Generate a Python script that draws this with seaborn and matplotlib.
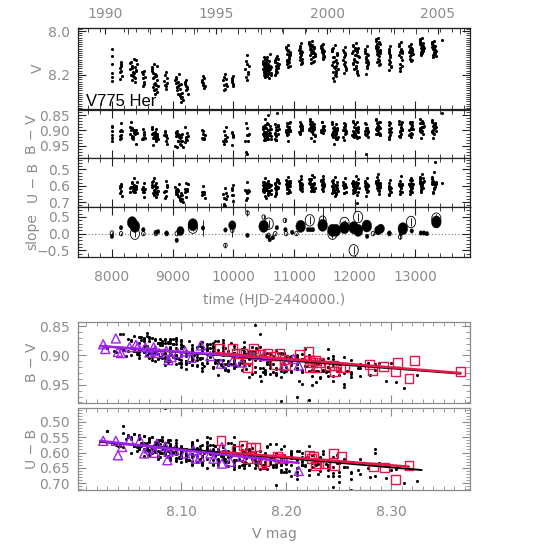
import numpy as np
import pandas as pd
import matplotlib
matplotlib.use("Agg")
import matplotlib.pyplot as plt
import seaborn as sns
from matplotlib.ticker import MultipleLocator, FixedLocator, FuncFormatter

nan = np.nan

# photometry of V775 Her, one line per observing season
hjd = [
    8002, 7994, 8008, 7997, 8005, 8000,
    8141, 8127, 8154, 8136, 8159, 8132, 8150, 8145,
    8370, 8310, 8394, 8333, 8302, 8415, 8347, 8318, 8386, 8355, 8403, 8325, 8362, 8340, 8378,
    8523, 8505, 8542, 8498, 8529, 8517, 8511, 8535,
    8700, 8664, 8741, 8682, 8719, 8658, 8750, 8676, 8694, 8733, 8670, 8712, 8688, 8760, 8706, 8726,
    8890, 8876, 8862, 8904, 8869, 8912, 8883, 8897,
    9098, 9060, 9140, 9045, 9114, 9083, 9160, 9052, 9122, 9068, 9172, 9090, 9130, 9075, 9150, 9106,
    9228, 9211, 9240, 9205, 9222, 9247, 9217, 9234,
    9500, 9482, 9518, 9494, 9525, 9488, 9512, 9506,
    9867, 9839, 9881, 9832, 9860, 9889, 9846, 9874, 9853,
    9988, 9970, 10001, 9976, 9994, 9982,
    10231, 10203, 10252, 10196, 10224, 10245, 10210, 10238, 10217,
    10485, 10490, 10494, 10498, 10502, 10506, 10510, 10514, 10518, 10522,
    10526, 10530, 10534, 10538, 10542, 10546, 10550, 10555, 10560, 10565,
    10570, 10575, 10580, 10586, 10592, 10598, 10605, 10612, 10620, 10628,
    10722, 10686, 10740, 10680, 10710, 10747, 10698, 10734, 10692, 10716, 10704, 10728,
    10907, 10877, 10934, 10872, 10917, 10941, 10887, 10928, 10882, 10912, 10897, 10922, 10892, 10902,
    11115, 11095, 11130, 11090, 11120, 11136, 11100, 11125, 11105, 11110,
    11298, 11262, 11328, 11250, 11310, 11274, 11340, 11256, 11316, 11286, 11334, 11268, 11304, 11280, 11322, 11292,
    11475, 11455, 11490, 11450, 11480, 11496, 11460, 11485, 11465, 11470,
    11680, 11632, 11704, 11620, 11656, 11716, 11638, 11692, 11626, 11668, 11710, 11644, 11674, 11722, 11650, 11698, 11662, 11686,
    11834, 11816, 11846, 11810, 11828, 11852, 11822, 11840,
    12016, 11974, 12046, 11962, 12004, 12058, 11986, 12034, 11968, 12022, 12064, 11992, 12040, 11980, 12052, 11998, 12028, 12010,
    12197, 12177, 12212, 12172, 12202, 12218, 12182, 12207, 12187, 12192,
    12388, 12358, 12413, 12348, 12398, 12368, 12424, 12353, 12403, 12378, 12418, 12363, 12393, 12373, 12408, 12383,
    12578, 12563, 12588, 12558, 12573, 12594, 12568, 12583,
    12760, 12736, 12778, 12730, 12766, 12785, 12742, 12772, 12748, 12754,
    12930, 12905, 12945, 12900, 12920, 12956, 12910, 12940, 12915, 12935, 12925, 12950,
    13105, 13075, 13126, 13070, 13095, 13138, 13080, 13115, 13085, 13132, 13090, 13120, 13100, 13110,
    13300, 13276, 13324, 13270, 13306, 13336, 13282, 13318, 13288, 13330, 13294, 13312,
    13443,
]
vmag = [
    8.080, 8.115, 8.150, 8.190, 8.210, 8.228,
    8.150, 8.188, 8.142, 8.170, 8.203, 8.220, 8.180, 8.160,
    8.125, 8.140, 8.132, 8.158, 8.171, 8.150, 8.185, 8.198, 8.162, 8.210, 8.176, 8.225, 8.190, 8.205, 8.232,
    8.182, 8.195, 8.210, 8.188, 8.230, 8.248, 8.215, 8.240,
    8.150, 8.172, 8.160, 8.190, 8.205, 8.182, 8.225, 8.215, 8.240, 8.198, 8.255, 8.235, 8.268, 8.250, 8.285, 8.262,
    8.185, 8.200, 8.228, 8.212, 8.245, 8.235, 8.262, 8.250,
    8.195, 8.210, 8.240, 8.225, 8.262, 8.250, 8.280, 8.235, 8.295, 8.270, 8.312, 8.288, 8.325, 8.255, 8.300, 8.245,
    8.222, 8.240, 8.255, 8.232, 8.270, 8.285, 8.248, 8.262,
    8.205, 8.222, 8.215, 8.238, 8.250, 8.230, 8.258, 8.245,
    8.195, 8.210, 8.240, 8.225, 8.262, 8.250, 8.270, 8.218, 8.245,
    8.205, 8.222, 8.240, 8.215, 8.250, 8.232,
    8.110, 8.135, 8.160, 8.175, 8.150, 8.195, 8.210, 8.185, 8.222,
    8.150, 8.172, 8.135, 8.185, 8.160, 8.198, 8.145, 8.175, 8.210, 8.128,
    8.168, 8.190, 8.155, 8.140, 8.182, 8.205, 8.162, 8.118, 8.178, 8.195,
    8.148, 8.170, 8.215, 8.138, 8.185, 8.158, 8.105, 8.175, 8.200, 8.165,
    8.115, 8.140, 8.160, 8.132, 8.175, 8.150, 8.190, 8.168, 8.198, 8.145, 8.180, 8.125,
    8.065, 8.085, 8.100, 8.078, 8.120, 8.110, 8.135, 8.095, 8.150, 8.125, 8.165, 8.140, 8.105, 8.090,
    8.055, 8.075, 8.095, 8.085, 8.110, 8.125, 8.100, 8.140, 8.118, 8.150,
    8.045, 8.060, 8.075, 8.052, 8.090, 8.080, 8.105, 8.068, 8.120, 8.095, 8.135, 8.110, 8.085, 8.145, 8.100, 8.070,
    8.060, 8.075, 8.090, 8.070, 8.100, 8.112, 8.085, 8.120, 8.095, 8.128,
    8.065, 8.080, 8.100, 8.090, 8.120, 8.110, 8.140, 8.130, 8.155, 8.170, 8.145, 8.185, 8.200, 8.175, 8.215, 8.160, 8.228, 8.190,
    8.072, 8.095, 8.110, 8.130, 8.150, 8.170, 8.190, 8.140,
    8.055, 8.070, 8.085, 8.100, 8.078, 8.115, 8.130, 8.095, 8.145, 8.160, 8.120, 8.175, 8.190, 8.150, 8.200, 8.135, 8.110, 8.088,
    8.070, 8.090, 8.110, 8.100, 8.130, 8.150, 8.120, 8.170, 8.195, 8.140,
    8.030, 8.045, 8.060, 8.075, 8.052, 8.090, 8.100, 8.068, 8.115, 8.125, 8.085, 8.140, 8.155, 8.105, 8.130, 8.095,
    8.070, 8.090, 8.110, 8.130, 8.150, 8.165, 8.178, 8.120,
    8.050, 8.070, 8.090, 8.110, 8.080, 8.130, 8.150, 8.100, 8.170, 8.180,
    8.060, 8.072, 8.085, 8.095, 8.078, 8.105, 8.115, 8.090, 8.125, 8.135, 8.100, 8.082,
    8.030, 8.042, 8.055, 8.048, 8.065, 8.075, 8.060, 8.085, 8.095, 8.070, 8.105, 8.090, 8.110, 8.080,
    8.045, 8.055, 8.068, 8.060, 8.078, 8.090, 8.072, 8.100, 8.110, 8.085, 8.120, 8.095,
    8.040,
]
bv = [
    0.902, 0.886, 0.889, 0.933, 0.914, 0.926,
    0.915, 0.901, 0.898, 0.928, 0.902, 0.918, 0.925, 0.877,
    0.908, 0.873, 0.907, 0.925, 0.888, 0.907, 0.922, 0.897, 0.902, 0.900, 0.944, 0.918, 0.905, 0.927, 0.912,
    0.914, 0.896, 0.923, 0.928, 0.912, 0.926, 0.929, 0.904,
    0.910, 0.889, 0.917, 0.923, 0.910, 0.911, 0.925, 0.907, 0.926, 0.896, 0.949, 0.925, 0.922, 0.927, 0.914, 0.932,
    0.917, 0.902, 0.915, 0.944, 0.906, 0.926, 0.936, 0.914,
    0.922, 0.906, 0.920, 0.950, 0.914, 0.934, 0.933, 0.907, 0.943, 0.914, 0.955, 0.913, 0.934, 0.954, 0.912, 0.917,
    0.927, 0.889, 0.930, 0.938, 0.922, 0.918, 0.927, 0.907,
    0.910, 0.899, 0.925, 0.928, 0.915, 0.926, 0.927, 0.901,
    0.914, 0.902, 0.935, 0.935, 0.928, 0.921, 0.935, 0.889, 0.943,
    0.917, 0.904, 0.920, 0.948, 0.914, 0.908,
    0.892, 0.876, 0.910, 0.935, 0.915, 0.936, 0.970, 0.914, 0.976,
    0.910, 0.889, 0.895, 0.932, 0.885, 0.914, 0.917, 0.864, 0.923, 0.881,
    0.932, 0.893, 0.912, 0.908, 0.904, 0.913, 0.923, 0.878, 0.921, 0.927,
    0.878, 0.848, 0.898, 0.916, 0.909, 0.908, 0.894, 0.885, 0.927, 0.917,
    0.897, 0.880, 0.910, 0.912, 0.900, 0.896, 0.930, 0.885, 0.928, 0.842, 0.932, 0.883,
    0.894, 0.874, 0.900, 0.906, 0.890, 0.901, 0.913, 0.871, 0.916, 0.890, 0.936, 0.888, 0.901, 0.900,
    0.892, 0.872, 0.899, 0.905, 0.888, 0.898, 0.907, 0.885, 0.904, 0.898,
    0.887, 0.868, 0.895, 0.900, 0.885, 0.882, 0.915, 0.861, 0.913, 0.881, 0.934, 0.891, 0.891, 0.924, 0.880, 0.890,
    0.892, 0.873, 0.898, 0.905, 0.888, 0.899, 0.905, 0.885, 0.903, 0.888,
    0.894, 0.872, 0.900, 0.910, 0.890, 0.893, 0.920, 0.878, 0.916, 0.900, 0.927, 0.908, 0.920, 0.922, 0.906, 0.911, 0.945, 0.904,
    0.896, 0.876, 0.903, 0.922, 0.896, 0.908, 0.931, 0.879,
    0.892, 0.869, 0.897, 0.915, 0.878, 0.896, 0.920, 0.872, 0.916, 0.900, 0.922, 0.908, 0.922, 0.918, 0.906, 0.908, 0.917, 0.879,
    0.896, 0.874, 0.901, 0.913, 0.892, 0.904, 0.914, 0.892, 0.978, 0.893,
    0.888, 0.864, 0.891, 0.910, 0.873, 0.890, 0.912, 0.867, 0.908, 0.891, 0.916, 0.899, 0.912, 0.910, 0.888, 0.900,
    0.896, 0.873, 0.901, 0.920, 0.895, 0.906, 0.929, 0.877,
    0.893, 0.870, 0.897, 0.917, 0.879, 0.898, 0.921, 0.873, 0.919, 0.902,
    0.894, 0.871, 0.896, 0.915, 0.878, 0.894, 0.916, 0.872, 0.912, 0.895, 0.920, 0.882,
    0.888, 0.863, 0.889, 0.901, 0.876, 0.886, 0.900, 0.872, 0.904, 0.876, 0.923, 0.887, 0.903, 0.903,
    0.891, 0.866, 0.891, 0.904, 0.879, 0.889, 0.902, 0.875, 0.907, 0.879, 0.926, 0.887,
    0.842,
]
ub = [
    nan, nan, nan, nan, nan, nan,
    0.591, 0.646, 0.604, 0.600, 0.660, 0.616, 0.632, 0.600,
    0.550, 0.608, 0.608, 0.574, 0.640, 0.578, 0.630, 0.607, 0.618, 0.595, 0.622, 0.607, 0.636, 0.606, 0.616,
    0.583, 0.640, 0.621, 0.618, 0.670, 0.608, 0.628, 0.640,
    0.551, 0.608, 0.608, 0.573, 0.642, 0.578, 0.635, 0.600, 0.640, 0.580, 0.646, 0.595, 0.658, 0.634, 0.603, 0.666,
    0.571, 0.630, 0.636, 0.596, 0.675, 0.605, 0.665, 0.633,
    0.590, 0.650, 0.646, 0.608, 0.685, 0.628, 0.680, 0.623, 0.684, 0.620, 0.699, 0.633, 0.694, 0.648, 0.656, 0.666,
    0.580, 0.640, 0.621, 0.618, 0.670, 0.590, 0.635, 0.630,
    0.603, 0.658, 0.641, 0.638, 0.675, 0.638, 0.648, 0.647,
    0.615, 0.673, 0.678, 0.648, 0.722, 0.665, 0.725, 0.643, 0.712,
    0.595, 0.656, 0.656, 0.616, 0.695, 0.625,
    0.575, 0.630, 0.631, 0.628, 0.645, 0.640, 0.685, 0.627, 0.672,
    0.575, 0.630, 0.596, 0.613, 0.635, 0.612, 0.605, 0.613, 0.662, 0.552,
    0.622, 0.603, 0.621, 0.594, 0.610, 0.675, 0.590, 0.588, 0.610, 0.658,
    0.568, 0.634, 0.630, 0.610, 0.636, 0.594, 0.600, 0.594, 0.652, 0.597,
    0.560, 0.616, 0.616, 0.580, 0.652, 0.585, 0.645, 0.610, 0.662, 0.570, 0.642, 0.565,
    0.545, 0.600, 0.601, 0.566, 0.635, 0.570, 0.622, 0.580, 0.642, 0.570, 0.642, 0.583, 0.610, 0.586,
    0.540, 0.596, 0.596, 0.570, 0.628, 0.590, 0.595, 0.615, 0.622, 0.582,
    0.535, 0.590, 0.591, 0.556, 0.625, 0.560, 0.612, 0.570, 0.634, 0.560, 0.634, 0.573, 0.600, 0.631, 0.581, 0.608,
    0.543, 0.598, 0.598, 0.563, 0.630, 0.590, 0.596, 0.610, 0.617, 0.575,
    0.545, 0.600, 0.598, 0.573, 0.635, 0.578, 0.625, 0.603, 0.644, 0.600, 0.626, 0.613, 0.663, 0.634, 0.640, 0.650, 0.640, 0.646,
    0.550, 0.606, 0.604, 0.596, 0.645, 0.608, 0.645, 0.600,
    0.540, 0.593, 0.594, 0.583, 0.610, 0.585, 0.625, 0.585, 0.644, 0.602, 0.614, 0.615, 0.705, 0.624, 0.636, 0.640, 0.578, 0.595,
    0.553, 0.603, 0.604, 0.580, 0.638, 0.598, 0.612, 0.623, 0.662, 0.582,
    0.530, 0.583, 0.581, 0.573, 0.600, 0.572, 0.610, 0.575, 0.630, 0.585, 0.604, 0.597, 0.648, 0.611, 0.606, 0.625,
    0.567, 0.618, 0.616, 0.606, 0.655, 0.612, 0.650, 0.610,
    0.543, 0.598, 0.596, 0.588, 0.615, 0.590, 0.630, 0.591, 0.650, 0.604,
    0.550, 0.603, 0.601, 0.590, 0.620, 0.592, 0.630, 0.593, 0.650, 0.605, 0.619, 0.563,
    0.530, 0.580, 0.578, 0.556, 0.610, 0.570, 0.586, 0.593, 0.627, 0.555, 0.626, 0.575, 0.636, 0.598,
    0.515, 0.578, 0.581, 0.556, 0.615, 0.578, 0.590, 0.605, 0.640, 0.455, 0.642, 0.580,
    0.580,
]

# further nights in the better covered seasons
hjd_b = [
    10488, 10500, 10512, 10524, 10536, 10548, 10562, 10578, 10595, 10615,
    10684, 10696, 10708, 10720, 10738,
    10875, 10885, 10895, 10905, 10920, 10932,
    11092, 11102, 11112, 11122, 11132,
    11252, 11266, 11278, 11290, 11302, 11314, 11326, 11338,
    11452, 11462, 11472, 11482, 11494,
    11624, 11636, 11648, 11660, 11672, 11684, 11696, 11712,
    11812, 11824, 11836, 11844, 11850,
    11965, 11978, 11990, 12002, 12018, 12030, 12044, 12060,
    12175, 12185, 12195, 12205, 12215,
    12350, 12360, 12370, 12380, 12390, 12400, 12410, 12420,
    12560, 12570, 12580, 12590,
    12732, 12744, 12756, 12768, 12780,
    12902, 12912, 12922, 12932, 12942, 12952,
    13072, 13082, 13092, 13102, 13112, 13124,
    13272, 13284, 13296, 13308, 13320, 13332,
    8305, 8330, 8350, 8375, 8398,
    8662, 8685, 8705, 8728, 8748,
    9050, 9072, 9095, 9118, 9145,
]
vmag_b = [
    8.142, 8.120, 8.188, 8.165, 8.152, 8.132, 8.205, 8.178, 8.158, 8.192,
    8.135, 8.158, 8.122, 8.185, 8.150,
    8.072, 8.130, 8.088, 8.145, 8.108, 8.158,
    8.068, 8.132, 8.090, 8.105, 8.145,
    8.058, 8.082, 8.128, 8.065, 8.098, 8.140, 8.072, 8.115,
    8.078, 8.065, 8.105, 8.088, 8.118,
    8.092, 8.118, 8.075, 8.162, 8.138, 8.205, 8.180, 8.105,
    8.085, 8.120, 8.160, 8.102, 8.178,
    8.062, 8.092, 8.125, 8.108, 8.168, 8.142, 8.182, 8.078,
    8.080, 8.125, 8.105, 8.160, 8.142,
    8.038, 8.082, 8.058, 8.110, 8.072, 8.135, 8.092, 8.148,
    8.082, 8.100, 8.142, 8.160,
    8.060, 8.095, 8.120, 8.085, 8.160,
    8.068, 8.088, 8.110, 8.075, 8.130, 8.098,
    8.036, 8.052, 8.078, 8.062, 8.100, 8.088,
    8.050, 8.082, 8.065, 8.105, 8.092, 8.115,
    8.145, 8.168, 8.195, 8.215, 8.180,
    8.165, 8.210, 8.195, 8.245, 8.278,
    8.218, 8.255, 8.232, 8.285, 8.305,
]
bv_b = [
    0.888, 0.905, 0.915, 0.892, 0.918, 0.876, 0.928, 0.899, 0.912, 0.896,
    0.907, 0.889, 0.918, 0.897, 0.884,
    0.898, 0.884, 0.905, 0.910, 0.876, 0.902,
    0.884, 0.911, 0.879, 0.900, 0.893,
    0.894, 0.878, 0.903, 0.872, 0.906, 0.897, 0.889, 0.918,
    0.897, 0.871, 0.892, 0.909, 0.884,
    0.880, 0.906, 0.892, 0.897, 0.915, 0.901, 0.928, 0.894,
    0.900, 0.888, 0.912, 0.884, 0.903,
    0.873, 0.903, 0.887, 0.911, 0.900, 0.925, 0.896, 0.890,
    0.902, 0.880, 0.910, 0.897, 0.921,
    0.894, 0.875, 0.898, 0.883, 0.907, 0.890, 0.872, 0.915,
    0.905, 0.882, 0.915, 0.892,
    0.878, 0.905, 0.889, 0.910, 0.896,
    0.899, 0.877, 0.908, 0.893, 0.885, 0.912,
    0.893, 0.875, 0.898, 0.869, 0.888, 0.911,
    0.872, 0.898, 0.884, 0.912, 0.880, 0.903,
    0.913, 0.893, 0.920, 0.906, 0.898,
    0.896, 0.922, 0.905, 0.935, 0.912,
    0.918, 0.902, 0.936, 0.925, 0.946,
]
ub_b = [
    0.620, 0.577, 0.640, 0.588, 0.625, 0.580, 0.612, 0.645, 0.592, 0.628,
    0.590, 0.628, 0.602, 0.615, 0.575,
    0.590, 0.575, 0.610, 0.595, 0.625, 0.640,
    0.585, 0.612, 0.560, 0.605, 0.630,
    0.582, 0.560, 0.605, 0.590, 0.618, 0.598, 0.548, 0.612,
    0.572, 0.588, 0.615, 0.560, 0.600,
    0.602, 0.580, 0.565, 0.635, 0.598, 0.618, 0.650, 0.612,
    0.578, 0.615, 0.598, 0.592, 0.640,
    0.570, 0.600, 0.580, 0.625, 0.612, 0.595, 0.655, 0.560,
    0.572, 0.620, 0.590, 0.610, 0.632,
    0.575, 0.548, 0.596, 0.565, 0.585, 0.628, 0.598, 0.610,
    0.602, 0.585, 0.630, 0.640,
    0.590, 0.570, 0.612, 0.598, 0.640,
    0.592, 0.565, 0.608, 0.580, 0.640, 0.615,
    0.570, 0.548, 0.595, 0.580, 0.590, 0.615,
    0.548, 0.590, 0.570, 0.620, 0.598, 0.588,
    0.615, 0.585, 0.625, 0.640, 0.600,
    0.595, 0.625, 0.640, 0.615, 0.650,
    0.640, 0.628, 0.660, 0.675, 0.655,
]

# seasonal colour/magnitude slopes (filled: B-V, open: U-B)
slope_t = [8000, 8150, 8333, 8378, 8517, 8722, 8760, 8900, 9067, 9128,
           9333, 9500, 9870, 9983, 10233, 10500, 10560, 10600, 10650, 10717,
           10858, 10970, 11110, 11230, 11270, 11310, 11472, 11633, 11690, 11833,
           11983, 12055, 12200, 12205, 12388, 12430, 12572, 12760, 12793, 12940,
           13090, 13140, 13190, 13345]
slope_val = [-0.08, 0.18, 0.33, 0.22, 0.12, 0.04, 0.06, 0.02, -0.20, 0.08,
             0.27, 0.17, 0.11, 0.25, -0.05, 0.22, -0.08, -0.18, -0.12, 0.18,
             0.12, 0.04, 0.22, 0.12, 0.12, 0.12, 0.25, 0.10, 0.10, 0.18,
             0.18, 0.10, 0.23, -0.08, 0.10, 0.15, 0.02, 0.00, 0.15, 0.08,
             0.02, 0.02, 0.00, 0.35]
slope_w = [1, 1, 3, 3, 1, 1, 1, 1, 1, 2,
           3, 1, 1, 2, 1, 3, 1, 1, 1, 1,
           1, 1, 3, 1, 1, 1, 3, 3, 3, 3,
           3, 3, 3, 1, 2, 2, 1, 1, 3, 1,
           1, 1, 1, 3]
slope_err_lo = [0, 0, 0, 0, 0, 0, 0, 0, 0, 0,
                0, 0.25, 0, 0.1, 0, 0, 0, 0, 0, 0,
                0, 0, 0, 0, 0, 0, 0, 0, 0, 0,
                0, 0, 0, 0, 0, 0, 0, 0, 0, 0,
                0, 0, 0, 0]
slope_err_hi = [0, 0, 0, 0, 0, 0, 0, 0, 0, 0,
                0, 0.25, 0, 0.1, 0, 0, 0, 0, 0, 0,
                0, 0, 0, 0, 0, 0, 0.55, 0, 0, 0,
                0, 0, 0, 0, 0, 0, 0, 0, 0, 0,
                0, 0, 0, 0]

slope2_t = [8000, 8150, 8378, 8517, 8722, 8900, 9067, 9333, 9870, 9983,
            10233, 10500, 10583, 10580, 10690, 10850, 10870, 11040, 11260, 11472,
            11633, 11833, 11983, 12055, 12300, 12572, 12750, 12928, 13345]
slope2_val = [0.02, 0.00, 0.00, 0.00, 0.00, 0.00, 0.00, 0.18, -0.35, 0.10,
              0.62, 0.50, 0.30, -0.05, 0.00, 0.40, 0.00, 0.00, 0.40, 0.40,
              0.00, 0.32, -0.50, 0.50, 0.00, 0.00, -0.10, 0.35, 0.45]
slope2_w = [1, 1, 3, 1, 1, 1, 1, 3, 1, 1,
            1, 1, 3, 1, 1, 1, 1, 1, 3, 2,
            3, 3, 3, 3, 1, 1, 1, 3, 3]
slope2_err = [0.03, 0.03, 0.10, 0.03, 0.03, 0.03, 0.03, 0.10, 0.08, 0.20,
              0.08, 0.05, 0.12, 0.05, 0.03, 0.06, 0.03, 0.03, 0.12, 0.10,
              0.12, 0.10, 0.12, 0.12, 0.03, 0.03, 0.06, 0.12, 0.15]

# binned means: bright state (triangles) and faint state (squares)
tri_bv_v = [8.026, 8.028, 8.038, 8.040, 8.043, 8.051, 8.057, 8.059, 8.066, 8.070,
            8.074, 8.075, 8.079, 8.086, 8.088, 8.091, 8.097, 8.104, 8.110, 8.119,
            8.128, 8.138, 8.149, 8.158, 8.179, 8.198, 8.207, 8.212]
tri_bv = [0.881, 0.889, 0.871, 0.894, 0.896, 0.886, 0.882, 0.885, 0.886, 0.895,
          0.886, 0.892, 0.896, 0.892, 0.908, 0.903, 0.896, 0.893, 0.904, 0.883,
          0.901, 0.914, 0.910, 0.912, 0.901, 0.917, 0.906, 0.917]
tri_ub_v = [8.026, 8.038, 8.040, 8.044, 8.051, 8.061, 8.065, 8.069, 8.075, 8.077,
            8.085, 8.087, 8.088, 8.094, 8.104, 8.112, 8.114, 8.128, 8.131, 8.139,
            8.139, 8.158, 8.118, 8.147, 8.172, 8.198, 8.212]
tri_ub = [0.562, 0.562, 0.609, 0.582, 0.560, 0.560, 0.603, 0.587, 0.601, 0.571,
          0.580, 0.625, 0.598, 0.593, 0.603, 0.593, 0.620, 0.603, 0.620, 0.582,
          0.636, 0.614, 0.614, 0.630, 0.620, 0.620, 0.660]

sq_bv_v = [8.137, 8.149, 8.153, 8.159, 8.163, 8.163, 8.169, 8.171, 8.176, 8.182,
           8.188, 8.190, 8.194, 8.198, 8.200, 8.213, 8.221, 8.222, 8.222, 8.225,
           8.228, 8.229, 8.232, 8.241, 8.245, 8.246, 8.252, 8.256, 8.279, 8.282,
           8.293, 8.304, 8.306, 8.317, 8.322, 8.366]
sq_bv = [0.888, 0.888, 0.896, 0.897, 0.907, 0.920, 0.888, 0.898, 0.898, 0.896,
         0.901, 0.915, 0.896, 0.907, 0.917, 0.898, 0.893, 0.909, 0.920, 0.912,
         0.909, 0.920, 0.912, 0.917, 0.917, 0.928, 0.920, 0.920, 0.915, 0.926,
         0.919, 0.928, 0.912, 0.939, 0.909, 0.927]
sq_ub_v = [8.138, 8.153, 8.159, 8.163, 8.166, 8.171, 8.177, 8.180, 8.192, 8.194,
           8.222, 8.224, 8.226, 8.228, 8.231, 8.237, 8.245, 8.246, 8.253, 8.283,
           8.294, 8.304, 8.317]
sq_ub = [0.562, 0.593, 0.576, 0.620, 0.584, 0.582, 0.636, 0.630, 0.614, 0.620,
         0.609, 0.620, 0.611, 0.644, 0.636, 0.636, 0.603, 0.643, 0.612, 0.647,
         0.649, 0.688, 0.642]

# linear fits (end points): all data, bright state, faint state
fit_bv_v = {"all": [8.023, 8.366], "tri": [8.023, 8.212], "sq": [8.134, 8.366]}
fit_bv = {"all": [0.884, 0.931], "tri": [0.884, 0.908], "sq": [0.896, 0.930]}
fit_ub_v = {"all": [8.023, 8.329], "tri": [8.023, 8.212], "sq": [8.138, 8.317]}
fit_ub = {"all": [0.565, 0.657], "tri": [0.562, 0.634], "sq": [0.598, 0.646]}

years = [1990, 1995, 2000, 2005]

obs = pd.concat([pd.DataFrame({"hjd": hjd, "V": vmag, "BV": bv, "UB": ub}),
                 pd.DataFrame({"hjd": hjd_b, "V": vmag_b, "BV": bv_b, "UB": ub_b})],
                ignore_index=True)

sns.set_style("ticks")
plt.rcParams["font.family"] = ["DejaVu Sans"]
plt.rcParams["font.size"] = 10

PURPLE = "#a020f0"
RED = "#e8174a"
LABEL = "#8c8c8c"

fig = plt.figure(figsize=(5.45, 5.45), dpi=100)


def add_axes(left, top, right, bottom):
    return fig.add_axes([left / 545, 1 - bottom / 545, (right - left) / 545, (bottom - top) / 545])


ax_v = add_axes(78, 28, 470, 109)
ax_bv = add_axes(78, 110, 470, 158)
ax_ub = add_axes(78, 158, 470, 207)
ax_sl = add_axes(78, 207, 470, 257)
ax_cbv = add_axes(78, 322, 470, 403)
ax_cub = add_axes(78, 408, 470, 490)


def fmt(n):
    return FuncFormatter(lambda x, p: f"{x + 0.0:.{n}f}".replace("-", "\u2212"))


def style(ax, frame):
    for sp in ax.spines.values():
        sp.set_color(frame)
        sp.set_linewidth(0.9)
    ax.tick_params(which="both", direction="in", top=True, right=True,
                   color=frame, labelcolor=LABEL, labelsize=10)
    ax.tick_params(which="major", length=6, width=0.8)
    ax.tick_params(which="minor", length=3, width=0.6)
    ax.tick_params(axis="y", pad=6)


# time series
for ax, col in [(ax_v, "V"), (ax_bv, "BV"), (ax_ub, "UB")]:
    sns.scatterplot(data=obs, x="hjd", y=col, ax=ax, color="k", s=5,
                    linewidth=0, legend=False)

theta = np.linspace(0, 2 * np.pi, 40)
ellipse = np.column_stack([0.8 * np.cos(theta), np.sin(theta)])

ax_sl.axhline(0, ls=(0, (1, 2)), color="#777777", lw=0.8, zorder=0)
sns.scatterplot(x=slope2_t, y=slope2_val, size=slope2_w, sizes=(10, 68), size_norm=(1, 3),
                marker=ellipse, color="white", edgecolor="k", linewidth=0.6,
                legend=False, ax=ax_sl, zorder=2)
sns.scatterplot(x=slope_t, y=slope_val, size=slope_w, sizes=(10, 75), size_norm=(1, 3),
                marker=ellipse, color="k", edgecolor="k", linewidth=0.3,
                legend=False, ax=ax_sl, zorder=3)
ax_sl.errorbar(slope2_t, slope2_val, yerr=slope2_err, fmt="none", ecolor="k",
               elinewidth=0.6, zorder=4)
ax_sl.errorbar(slope_t, slope_val, yerr=[slope_err_lo, slope_err_hi], fmt="none",
               ecolor="k", elinewidth=0.6, zorder=4)

for ax in (ax_v, ax_bv, ax_ub, ax_sl):
    style(ax, "#222222")
    ax.set_xlim(7440, 13900)
    ax.xaxis.set_major_locator(MultipleLocator(1000))
    ax.xaxis.set_minor_locator(MultipleLocator(200))
    ax.set_xlabel("")
for ax in (ax_v, ax_bv, ax_ub):
    ax.tick_params(axis="x", labelbottom=False)

ax_v.set_ylim(8.355, 7.986)
ax_v.yaxis.set_major_locator(MultipleLocator(0.2))
ax_v.yaxis.set_minor_locator(MultipleLocator(0.01))
ax_v.yaxis.set_major_formatter(fmt(1))
ax_v.tick_params(axis="x", top=False)

ax_bv.set_ylim(0.99, 0.833)
ax_bv.yaxis.set_major_locator(MultipleLocator(0.05))
ax_bv.yaxis.set_minor_locator(MultipleLocator(0.01))
ax_bv.yaxis.set_major_formatter(fmt(2))

ax_ub.set_ylim(0.73, 0.43)
ax_ub.yaxis.set_major_locator(MultipleLocator(0.1))
ax_ub.yaxis.set_minor_locator(MultipleLocator(0.02))
ax_ub.yaxis.set_major_formatter(fmt(1))

ax_sl.set_ylim(-0.7, 0.8)
ax_sl.yaxis.set_major_locator(MultipleLocator(0.5))
ax_sl.yaxis.set_minor_locator(MultipleLocator(0.1))
ax_sl.yaxis.set_major_formatter(fmt(1))
ax_sl.tick_params(axis="x", pad=9.5)
ax_sl.set_xlabel("time (HJD-2440000.)", color=LABEL, fontsize=10, labelpad=6)

# calendar years along the top
sec = ax_v.secondary_xaxis("top", functions=(lambda t: 1990 + (np.asarray(t) - 7892.5) / 365.25,
                                             lambda y: 7892.5 + (np.asarray(y) - 1990) * 365.25))
sec.xaxis.set_major_locator(FixedLocator(years))
sec.xaxis.set_minor_locator(FixedLocator(list(range(1990, 2007))))
sec.tick_params(which="both", direction="in", color="#222222", labelcolor=LABEL,
                labelsize=10, pad=5, length=4)
sec.spines["top"].set_color("#222222")

ax_v.text(0.02, 0.035, "V775 Her", transform=ax_v.transAxes, fontsize=12,
          family=["Liberation Sans Narrow", "Liberation Sans"], color="k")

for ax, lab, xc in [(ax_v, "V", -0.085), (ax_bv, "B \u2212 V", -0.10),
                    (ax_ub, "U \u2212 B", -0.095), (ax_sl, "slope", -0.10)]:
    ax.set_ylabel(lab, color=LABEL, fontsize=10)
    ax.yaxis.set_label_coords(xc, 0.5)

# colour-magnitude diagrams
for ax, col, tv, tc, sv, sc, fv, fc, lab in [
        (ax_cbv, "BV", tri_bv_v, tri_bv, sq_bv_v, sq_bv, fit_bv_v, fit_bv, "B \u2212 V"),
        (ax_cub, "UB", tri_ub_v, tri_ub, sq_ub_v, sq_ub, fit_ub_v, fit_ub, "U \u2212 B")]:
    sns.scatterplot(data=obs, x="V", y=col, ax=ax, color="k", s=5, linewidth=0,
                    legend=False, zorder=1)
    sns.scatterplot(x=tv, y=tc, ax=ax, marker="^", s=42, facecolor="none",
                    edgecolor=PURPLE, linewidth=1.0, legend=False, zorder=2)
    sns.scatterplot(x=sv, y=sc, ax=ax, marker="s", s=40, facecolor="none",
                    edgecolor=RED, linewidth=1.0, legend=False, zorder=2)
    sns.lineplot(x=fv["all"], y=fc["all"], ax=ax, color="k", lw=1.4, zorder=3)
    sns.lineplot(x=fv["tri"], y=fc["tri"], ax=ax, color=PURPLE, lw=1.8, zorder=4)
    sns.lineplot(x=fv["sq"], y=fc["sq"], ax=ax, color=RED, lw=1.8, zorder=5)
    style(ax, "#8a8a8a")
    ax.set_xlim(8.002, 8.375)
    ax.xaxis.set_major_locator(MultipleLocator(0.1))
    ax.xaxis.set_minor_locator(MultipleLocator(0.01))
    ax.xaxis.set_major_formatter(fmt(2))
    ax.yaxis.set_major_locator(MultipleLocator(0.05))
    ax.yaxis.set_minor_locator(MultipleLocator(0.01))
    ax.yaxis.set_major_formatter(fmt(2))
    ax.set_xlabel("")
    ax.set_ylabel(lab, color=LABEL, fontsize=10)
    ax.yaxis.set_label_coords(-0.10, 0.5)

ax_cbv.set_ylim(0.981, 0.843)
ax_cub.set_ylim(0.722, 0.455)
ax_cbv.tick_params(axis="x", labelbottom=False)
ax_cub.tick_params(axis="x", pad=10.5)
ax_cub.set_xlabel("V mag", color=LABEL, fontsize=10, labelpad=6)

fig.savefig("out.png", dpi=100)
